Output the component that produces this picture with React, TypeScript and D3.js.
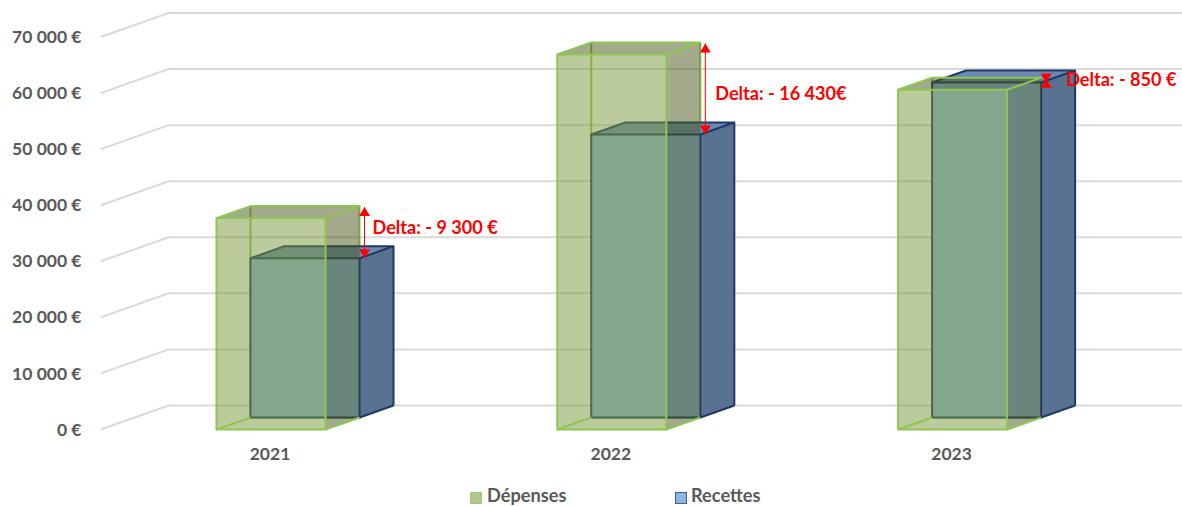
import React from "react";
import * as d3 from "d3";

const years = ["2021", "2022", "2023"];
const depenses = [37700, 66900, 60600];
const recettes = [28400, 50470, 59750];
const deltaLabels = ["Delta: - 9 300 €", "Delta: - 16 430€", "Delta: - 850 €"];
const deltaLabelY = [227.7, 93.7, 79.7];
const deltaLabelDx = [8, 10, 20];
const yTicks = [0, 10000, 20000, 30000, 40000, 50000, 60000, 70000];
const yTickLabels = ["0 €", "10 000 €", "20 000 €", "30 000 €", "40 000 €", "50 000 €", "60 000 €", "70 000 €"];

const W = 1182, H = 506;
const DX = 68, DY = 24;
const FONT = "Lato, 'Open Sans', sans-serif";
const TXT = "#595959";
const y = d3.scaleLinear().domain([0, 70000]).range([429.5, 37]);
const x = d3.scaleBand().domain(years).range([100.6, 1123]).paddingInner(0.68).paddingOuter(0.34);
const bw = x.bandwidth();
const P = (px: number, v: number, z: number): [number, number] => [px + DX * z, y(v) - DY * z];
const pts = (a: [number, number][]) => a.map((p) => p.join(",")).join(" ");

type BoxStyle = { stroke: string; front: string; side: string; top: string; sw: number };

const depStyle: BoxStyle = {
  stroke: "#8dc653", sw: 2,
  front: "rgba(121,151,55,0.5)", side: "rgba(71,85,23,0.5)", top: "rgba(71,85,23,0.5)",
};
const recStyle: BoxStyle = {
  stroke: "#1f3864", sw: 2,
  front: "#8db4e2", side: "#5a7291", top: "#6a8ab3",
};

// Edges at the far side of a translucent box: they pass behind the box standing behind it.
function BackEdges({ px, v, z1, s }: { px: number; v: number; z1: number; s: BoxStyle }) {
  const l = px, r = px + bw;
  return (
    <polyline
      points={pts([P(l, v, z1), P(l, 0, z1), P(r, 0, z1), P(r, v, z1)])}
      fill="none" stroke={s.stroke} strokeWidth={s.sw}
    />
  );
}

function Box({ px, v, z0, z1, s, leftFloor }: { px: number; v: number; z0: number; z1: number; s: BoxStyle; leftFloor: boolean }) {
  const l = px, r = px + bw;
  const fbl = P(l, 0, z0), fbr = P(r, 0, z0), ftl = P(l, v, z0), ftr = P(r, v, z0);
  const bbl = P(l, 0, z1), bbr = P(r, 0, z1), btl = P(l, v, z1), btr = P(r, v, z1);
  return (
    <g strokeLinejoin="round">
      <polygon points={pts([fbr, bbr, btr, ftr])} fill={s.side} />
      <polygon points={pts([ftl, ftr, btr, btl])} fill={s.top} />
      <polygon points={pts([fbl, fbr, ftr, ftl])} fill={s.front} />
      <g fill="none" stroke={s.stroke} strokeWidth={s.sw}>
        {leftFloor && <line x1={fbl[0]} y1={fbl[1]} x2={bbl[0]} y2={bbl[1]} />}
        <line x1={fbr[0]} y1={fbr[1]} x2={bbr[0]} y2={bbr[1]} />
        <polygon points={pts([fbl, fbr, ftr, ftl])} />
        <polyline points={pts([ftl, btl, btr, ftr])} />
        {!leftFloor && <line x1={bbr[0]} y1={bbr[1]} x2={btr[0]} y2={btr[1]} />}
      </g>
    </g>
  );
}

function Arrow({ ax, y0, y1 }: { ax: number; y0: number; y1: number }) {
  const h = 9, w = 5.5;
  return (
    <g fill="#ff0000" stroke="none">
      <line x1={ax} x2={ax} y1={y0} y2={y1} stroke="#ff0000" strokeWidth={1} />
      <polygon points={pts([[ax, y0], [ax - w, y0 + h], [ax + w, y0 + h]])} />
      <polygon points={pts([[ax, y1], [ax - w, y1 - h], [ax + w, y1 - h]])} />
    </g>
  );
}

export default function App() {
  return (
    <svg width={W} height={H} style={{ position: "absolute", left: 0, top: 0, display: "block", background: "#fff" }}>
      <g>
        {yTicks.map((t) => {
          const a = P(100.6, t, 0), b = P(100.6, t, 1);
          return (
            <polyline key={t} points={pts([a, b, [1182, b[1]]])} fill="none" stroke="#d9d9d9" strokeWidth={2} />
          );
        })}
      </g>
      <g fontFamily={FONT} fontWeight={700} fontSize={17.5} fill={TXT}>
        {yTicks.map((t, i) => (
          <text key={t} x={81.5} y={y(t)} dy="0.35em" textAnchor="end">{yTickLabels[i]}</text>
        ))}
        {years.map((c) => (
          <text key={c} x={(x(c) as number) + bw / 2 - 1} y={454} dy="0.35em" textAnchor="middle">{c}</text>
        ))}
      </g>
      {years.map((c, i) => {
        const px = x(c) as number;
        return (
          <g key={c}>
            <BackEdges px={px} v={depenses[i]} z1={0.5} s={depStyle} />
            <Box px={px} v={recettes[i]} z0={0.5} z1={1} s={recStyle} leftFloor={false} />
            <Box px={px} v={depenses[i]} z0={0} z1={0.5} s={depStyle} leftFloor={true} />
          </g>
        );
      })}
      {years.map((c, i) => {
        const px = x(c) as number;
        const depTop = P(px + bw, depenses[i], 0.5);
        const recTop = P(px + bw, recettes[i], 0.5);
        const ax = depTop[0] + 5;
        return (
          <g key={c}>
            <Arrow ax={ax} y0={depTop[1] + 1} y1={recTop[1]} />
            <text x={ax + deltaLabelDx[i]} y={deltaLabelY[i]} dy="0.35em" fontFamily={FONT} fontWeight={700} fontSize={18.1} fill="#ff0000">
              {deltaLabels[i]}
            </text>
          </g>
        );
      })}
      <g fontFamily={FONT} fontWeight={700} fontSize={18.2} fill={TXT}>
        <rect x={470.5} y={492.5} width={11} height={11} fill="#b3c88f" stroke="#a4c46e" />
        <text x={487} y={501.8}>Dépenses</text>
        <rect x={675.5} y={492.5} width={11} height={11} fill="#8db4e2" stroke="#3a6191" />
        <text x={691} y={501.8}>Recettes</text>
      </g>
    </svg>
  );
}
